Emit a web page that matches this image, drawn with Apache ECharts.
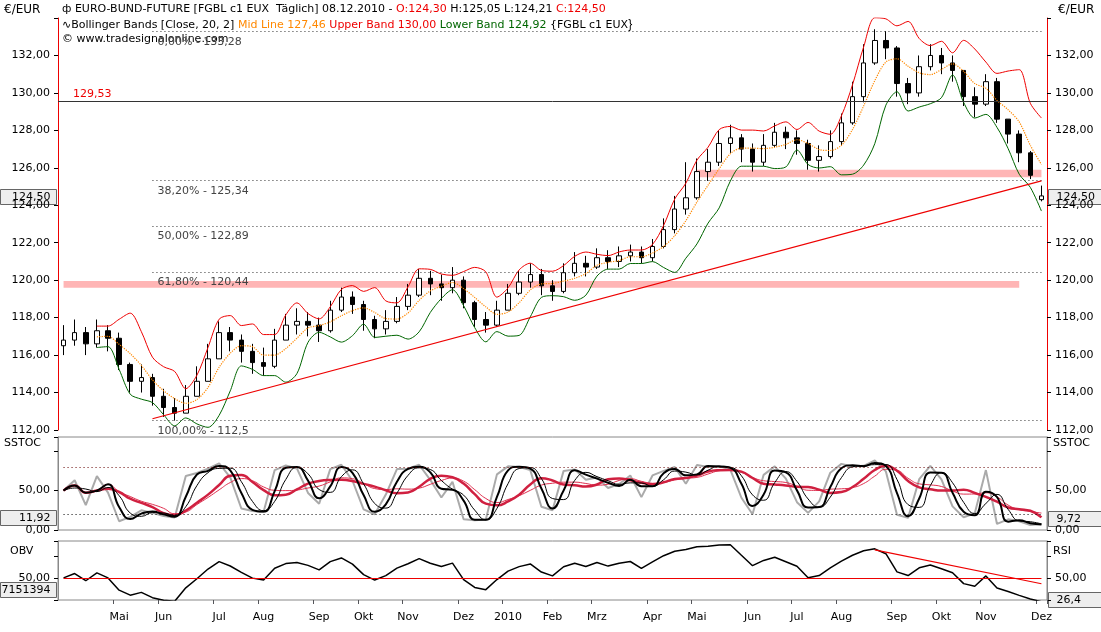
<!DOCTYPE html>
<html>
<head>
<meta charset="utf-8">
<script src="https://cdn.jsdelivr.net/npm/echarts@6/dist/echarts.min.js"></script>
<style>
  html, body { margin: 0; padding: 0; background: #fff; }
  #chart { width: 1101px; height: 632px; }
</style>
</head>
<body>
<div id="chart"></div>
<script>
// weekly bars, first week starts 2009-03-30
const firstWeek = '2009-03-30';
const monthNames = ['Jan', 'Feb', 'Mrz', 'Apr', 'Mai', 'Jun', 'Jul', 'Aug', 'Sep', 'Okt', 'Nov', 'Dez'];

const closes = [
    116.8, 117.2, 116.6, 117.3, 116.9,
    115.5, 114.6, 114.8, 113.8,
    113.2, 112.9, 113.8, 114.6, 115.8,
    117.2, 116.8, 116.2, 115.6,
    115.4, 116.8, 117.6, 117.8, 117.6,
    117.3, 118.4, 119.1, 118.7,
    117.9, 117.4, 117.8, 118.6,
    119.2, 120.1, 119.8, 119.6, 120.0,
    118.8, 117.9, 117.6, 118.4,
    119.3, 119.9, 120.3, 119.7,
    119.4, 120.4, 120.9, 120.7,
    121.2, 121.0, 121.3, 121.5, 121.2,
    121.8, 122.7, 123.8, 124.4,
    125.8, 126.3, 127.3, 127.6, 127.0,
    126.3, 127.2, 127.9, 127.6,
    127.3, 126.4, 126.6, 127.4,
    128.4, 129.8, 131.6, 132.8, 132.4,
    130.5, 130.0, 131.4, 132.0,
    131.6, 131.2, 129.8, 129.4,
    130.6, 128.6, 127.8, 126.8, 125.6,
    124.5
];
const highs = [
    117.6, 117.9, 117.5, 117.9, 117.6,
    117.2, 115.6, 115.5, 115.0,
    114.2, 113.7, 114.4, 115.4, 116.6,
    117.8, 117.5, 117.1, 116.6,
    116.4, 117.4, 118.2, 118.5, 118.3,
    118.0, 118.9, 119.6, 119.4,
    118.9, 118.1, 118.4, 119.1,
    119.8, 120.6, 120.5, 120.3, 120.7,
    120.2, 118.9, 118.3, 118.9,
    119.8, 120.5, 120.9, 120.6,
    120.0, 120.9, 121.5, 121.3,
    121.7, 121.6, 121.8, 121.9, 121.8,
    122.2, 123.3, 124.5, 126.3,
    126.5, 127.0, 128.0, 128.3, 127.8,
    127.3, 127.8, 128.4, 128.2,
    128.0, 127.5, 127.2, 128.0,
    128.9, 130.6, 132.6, 133.4, 133.3,
    132.5, 130.8, 132.0, 132.6,
    132.4, 132.0, 131.2, 130.3,
    131.0, 130.8, 128.6, 128.0, 126.9,
    125.05
];
const lows = [
    116.0, 116.5, 116.0, 116.4, 116.2,
    115.2, 114.0, 114.0, 113.3,
    112.7, 112.5, 113.0, 113.9, 114.8,
    115.8, 116.2, 115.6, 115.0,
    114.9, 115.3, 116.8, 117.1, 117.0,
    116.7, 117.2, 118.3, 118.2,
    117.3, 116.9, 117.1, 117.7,
    118.4, 119.1, 119.2, 118.9, 119.3,
    118.5, 117.5, 117.2, 117.5,
    118.4, 119.2, 119.6, 119.2,
    118.9, 119.3, 120.2, 120.2,
    120.6, 120.6, 120.7, 121.0, 120.9,
    121.0, 121.7, 122.5, 123.5,
    124.3, 125.3, 126.1, 126.8, 126.3,
    125.8, 126.1, 127.1, 127.0,
    126.7, 125.9, 125.8, 126.5,
    127.2, 128.3, 129.5, 131.5, 131.8,
    129.8, 129.4, 129.8, 131.2,
    131.0, 130.6, 129.3, 128.7,
    129.3, 128.4, 127.3, 126.3, 125.4,
    124.21
];
const firstOpen = 116.5;
const lastOpen = 124.30;

const fibLevels = [133.28, 125.34, 122.89, 120.44, 112.5];
const fibLabels = ['0,00% - 133,28', '38,20% - 125,34', '50,00% - 122,89', '61,80% - 120,44', '100,00% - 112,5'];
const resistance = 129.53;
const zoneTop = [125.5, 125.9];
const zoneBottom = [119.6, 119.95];
const trendStart = 112.6;
const trendEnd = 125.3;
const rsiTrend = [88, 42];

// dates
const dates = [];
let d0 = new Date(firstWeek + 'T00:00:00Z');
for (let i = 0; i < closes.length; i++) {
    const d = new Date(d0.getTime() + i * 7 * 86400000);
    dates.push(d.toISOString().slice(0, 10));
}

// candles: open = previous close
const candles = closes.map((c, i) => {
    let o = i === 0 ? firstOpen : closes[i - 1];
    if (i === closes.length - 1) o = lastOpen;
    return [o, c, Math.min(lows[i], o, c), Math.max(highs[i], o, c)];
});

// Bollinger bands
const bbN = 4;
const mid = [], upper = [], lower = [];
for (let i = 0; i < closes.length; i++) {
    if (i < bbN - 1) { mid.push('-'); upper.push('-'); lower.push('-'); continue; }
    const w = closes.slice(i - bbN + 1, i + 1);
    const m = w.reduce((a, b) => a + b, 0) / bbN;
    const sd = Math.sqrt(w.reduce((a, b) => a + (b - m) * (b - m), 0) / bbN);
    mid.push(m); upper.push(m + 2 * sd); lower.push(m - 2 * sd);
}

// stochastic
const sma = (arr, n) => arr.map((v, i) => {
    if (i < n - 1) return arr[i];
    let s = 0; for (let k = i - n + 1; k <= i; k++) s += arr[k]; return s / n;
});
const fastK = closes.map((c, i) => {
    const a = Math.max(0, i - 2);
    const hh = Math.max(...highs.slice(a, i + 1)), ll = Math.min(...lows.slice(a, i + 1));
    return hh === ll ? 50 : (c - ll) / (hh - ll) * 100;
});
const slowK = sma(fastK, 2);
const slowD = sma(slowK, 2);
const redA = sma(slowK, 5);
const redB = sma(slowK, 6);

// RSI
const rsi = [];
{
    const n = 6; let ag = 0.3, al = 0.3;
    for (let i = 0; i < closes.length; i++) {
        if (i === 0) { rsi.push(50); continue; }
        const ch = closes[i] - closes[i - 1];
        const g = Math.max(ch, 0), l = Math.max(-ch, 0);
        ag = (ag * (n - 1) + g) / n; al = (al * (n - 1) + l) / n;
        rsi.push(al === 0 ? 70 : 100 - 100 / (1 + ag / al));
    }
}
const last = closes.length - 1;

const chart = echarts.init(document.getElementById('chart'));
const font = 'DejaVu Sans';
const L = 58, R = 54;

const monthStart = (i, v) => v > '2009-04-30' && +v.slice(8, 10) <= 7;
const xBase = (gi, show) => ({
    type: 'category', data: dates, gridIndex: gi, boundaryGap: true,
    axisLine: { show: false }, axisTick: { show: show, interval: monthStart, length: 4 },
    axisLabel: {
        show: show, interval: monthStart,
        formatter: v => { const m = +v.slice(5, 7) - 1; return m === 0 ? v.slice(0, 4) : monthNames[m]; },
        fontFamily: font, fontSize: 11, color: '#000', margin: 12
    },
    splitLine: { show: false }
});

const yAx = (gi, min, max, interval, fmt) => ['left', 'right'].map(pos => ({
    type: 'value', gridIndex: gi, position: pos, min: min, max: max, interval: interval,
    axisLine: { show: true, lineStyle: { color: gi === 0 ? '#e00' : '#888' } },
    axisTick: { show: true, length: 4, lineStyle: { color: '#000' } },
    axisLabel: { fontFamily: font, fontSize: 11, color: '#000', formatter: fmt },
    splitLine: { show: false }
}));

const priceFmt = v => (v === 134 ? '' : v.toFixed(2).replace('.', ','));

const tag = (x, y, w, text, side) => ({
    type: 'group', left: x, top: y,
    children: [
        { type: 'rect', shape: { x: 0, y: 0, width: w, height: 15 }, style: { fill: '#eee', stroke: '#666' } },
        { type: 'text', style: { x: side === 'r' ? 8 : w - 6, y: 2, text: text, textAlign: side === 'r' ? 'left' : 'right', font: '11px DejaVu Sans', fill: '#000' } }
    ]
});

const option = {
    animation: false,
    backgroundColor: '#fff',
    grid: [
        { left: L, right: R, top: 18, height: 412 },
        { left: L, right: R, top: 437, height: 93, show: true, borderColor: '#888' },
        { left: L, right: R, top: 541, height: 59, show: true, borderColor: '#888' }
    ],
    xAxis: [xBase(0, false), xBase(1, false), xBase(2, true)],
    yAxis: [
        ...yAx(0, 112, 134, 2, priceFmt),
        ...yAx(1, 0, 118, 50, v => (v > 60 ? '' : v.toFixed(2).replace('.', ','))),
        ...yAx(2, 20, 100, 30, v => (v === 50 ? '50,00' : ''))
    ],
    graphic: [
        { type: 'text', left: 4, top: 4, style: { text: '€/EUR', font: '12px DejaVu Sans', fill: '#000' } },
        { type: 'text', left: 1058, top: 4, style: { text: '€/EUR', font: '12px DejaVu Sans', fill: '#000' } },
        { type: 'text', left: 4, top: 438, style: { text: 'SSTOC', font: '11px DejaVu Sans', fill: '#000' } },
        { type: 'text', left: 1053, top: 438, style: { text: 'SSTOC', font: '11px DejaVu Sans', fill: '#000' } },
        { type: 'text', left: 10, top: 546, style: { text: 'OBV', font: '11px DejaVu Sans', fill: '#000' } },
        { type: 'text', left: 1053, top: 546, style: { text: 'RSI', font: '11px DejaVu Sans', fill: '#000' } },
        {
            type: 'text', left: 62, top: 4,
            style: {
                text: '{k|ф EURO-BUND-FUTURE [FGBL c1 EUX  Täglich] 08.12.2010 - }{r|O:124,30 }{k|H:125,05 L:124,21 }{r|C:124,50}',
                rich: { k: { fontFamily: font, fontSize: 11, fill: '#000' }, r: { fontFamily: font, fontSize: 11, fill: '#e00' } }
            }
        },
        {
            type: 'text', left: 62, top: 19,
            style: {
                text: '{k|∿Bollinger Bands [Close, 20, 2] }{o|Mid Line 127,46 }{r|Upper Band 130,00 }{g|Lower Band 124,92 }{k|{FGBL c1 EUX}}',
                rich: {
                    k: { fontFamily: font, fontSize: 11, fill: '#000' }, o: { fontFamily: font, fontSize: 11, fill: '#f80' },
                    r: { fontFamily: font, fontSize: 11, fill: '#e00' }, g: { fontFamily: font, fontSize: 11, fill: '#060' }
                }
            }
        },
        { type: 'text', left: 62, top: 34, style: { text: '© www.tradesignalonline.com', font: '11px DejaVu Sans', fill: '#000' } },
        { type: 'text', left: 73, top: 89, style: { text: '129,53', font: '11px DejaVu Sans', fill: '#e00' } },
        tag(0, 189, 56, '124,50', 'l'),
        tag(1048, 189, 53, '124,50', 'r'),
        tag(0, 510, 56, '11,92', 'l'),
        tag(1048, 511, 53, '9,72', 'r'),
        tag(0, 582, 56, '7151394', 'l'),
        tag(1048, 592, 53, '26,4', 'r')
    ],
    series: [
        {
            type: 'candlestick', xAxisIndex: 0, yAxisIndex: 0, data: candles, barWidth: 5,
            itemStyle: { color: '#fff', color0: '#000', borderColor: '#000', borderColor0: '#000', borderWidth: 1 },
            markLine: {
                symbol: 'none', silent: true,
                data: [
                    ...fibLevels.map((v, i) => [
                        { coord: [8, v], lineStyle: { type: [1, 3], color: '#333', width: 1 },
                          label: { show: true, position: 'insideStartBottom', formatter: fibLabels[i], color: '#444', fontFamily: font, fontSize: 11 } },
                        { coord: [last, v] }
                    ]),
                    [{ yAxis: resistance, x: L, lineStyle: { type: 'solid', color: '#333', width: 1 }, label: { show: false } }, { yAxis: resistance, x: 1101 - R }],
                    [{ coord: [8, trendStart], lineStyle: { type: 'solid', color: '#e00', width: 1.2 }, label: { show: false } }, { coord: [last, trendEnd] }]
                ]
            },
            markArea: {
                silent: true, itemStyle: { color: 'rgba(255,150,150,0.7)' },
                data: [
                    [{ coord: [57, zoneTop[0]] }, { coord: [last, zoneTop[1]] }],
                    [{ coord: [0, zoneBottom[0]] }, { coord: [last - 2, zoneBottom[1]] }]
                ]
            }
        },
        { type: 'line', xAxisIndex: 0, yAxisIndex: 0, data: upper, symbol: 'none', smooth: 0.3, lineStyle: { color: '#e00', width: 1 } },
        { type: 'line', xAxisIndex: 0, yAxisIndex: 0, data: lower, symbol: 'none', smooth: 0.3, lineStyle: { color: '#060', width: 1 } },
        { type: 'line', xAxisIndex: 0, yAxisIndex: 0, data: mid, symbol: 'none', smooth: 0.3, lineStyle: { color: '#f80', width: 1.2, type: 'dotted' } },

        { type: 'line', xAxisIndex: 1, yAxisIndex: 2, data: fastK, symbol: 'none', lineStyle: { color: '#aaa', width: 2 },
          markLine: { symbol: 'none', silent: true, label: { show: false }, lineStyle: { type: [1, 3], color: '#600', width: 1 },
              data: [[{ coord: [0, 80] }, { coord: [last, 80] }], [{ coord: [0, 20], lineStyle: { color: '#000' } }, { coord: [last, 20] }]] } },
        { type: 'line', xAxisIndex: 1, yAxisIndex: 2, data: redB, symbol: 'none', smooth: true, lineStyle: { color: '#e03050', width: 1 } },
        { type: 'line', xAxisIndex: 1, yAxisIndex: 2, data: redA, symbol: 'none', smooth: true, lineStyle: { color: '#d02040', width: 2.5 } },
        { type: 'line', xAxisIndex: 1, yAxisIndex: 2, data: slowD, symbol: 'none', smooth: true, lineStyle: { color: '#000', width: 1 } },
        { type: 'line', xAxisIndex: 1, yAxisIndex: 2, data: slowK, symbol: 'none', smooth: true, lineStyle: { color: '#000', width: 2 } },

        { type: 'line', xAxisIndex: 2, yAxisIndex: 4, data: rsi, symbol: 'none', lineStyle: { color: '#000', width: 1.5 },
          markLine: { symbol: 'none', silent: true, label: { show: false },
              data: [
                  [{ coord: [0, 50], lineStyle: { color: '#e00', width: 1.2, type: 'solid' } }, { coord: [last, 50] }],
                  [{ coord: [73, rsiTrend[0]], lineStyle: { color: '#e00', width: 1.2, type: 'solid' } }, { coord: [last, rsiTrend[1]] }]
              ] } }
    ]
};
chart.setOption(option);
window.addEventListener('resize', function () { chart.resize(); });
</script>
</body>
</html>
